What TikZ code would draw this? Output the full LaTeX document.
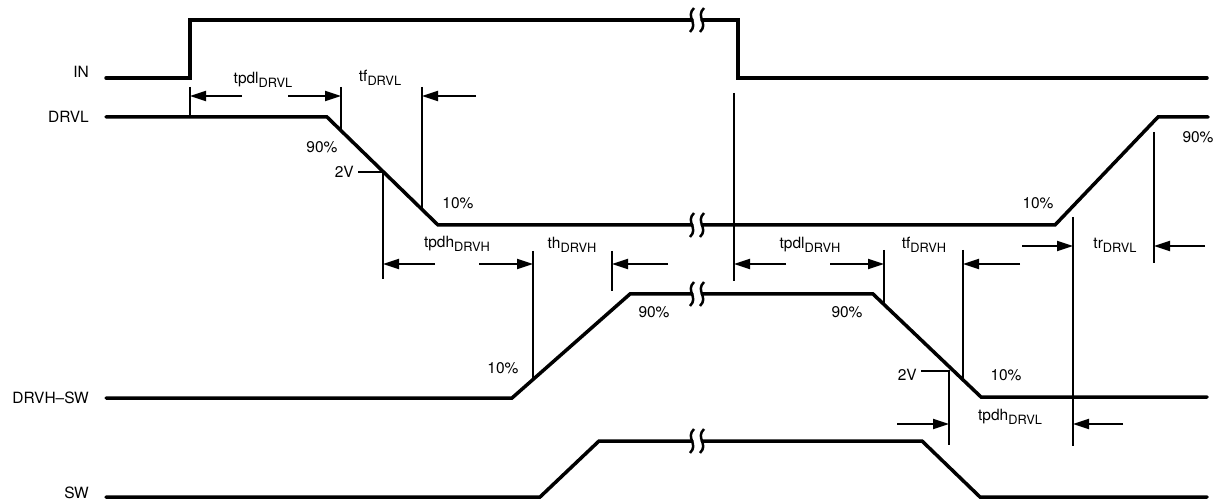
\documentclass[tikz,border=0pt]{standalone}
\usepackage{fontspec}
\setmainfont{TeX Gyre Heros}
\usetikzlibrary{arrows.meta}

\newcommand{\tsub}[2]{#1\raisebox{-4pt}{\fontsize{12.8}{13}\selectfont #2}}

\begin{document}
\begin{tikzpicture}[x=1pt,y=-1pt,
    sig/.style={line width=3.5pt,line cap=round},
    dim/.style={line width=2pt},
    arr/.style={line width=2pt,-{Triangle[length=16pt,width=10pt]}},
    lbl/.style={inner sep=0pt,font=\fontsize{15.5}{17}\selectfont}]
  \useasboundingbox (0,0) rectangle (1217,502);

  % signal names
  \node[lbl,anchor=east] at (89,72) (nIN) {IN};
  \node[lbl,anchor=east] at (89,117) (nDRVL) {DRVL};
  \node[lbl,anchor=east] at (89,398) (nDRVH) {DRVH–SW};
  \node[lbl,anchor=east] at (89,493) (nSW) {SW};

  % waveforms
  \draw[sig] (106,78) -- (190,78) -- (190,20) -- (692,20);
  \draw[sig] (702,20) -- (738,20) -- (738,78) -- (1207,78);
  \draw[sig] (106,117) -- (327,117) -- (438,225) -- (692,225);
  \draw[sig] (702,225) -- (1055,225) -- (1158,117) -- (1208,117);
  \draw[sig] (106,398) -- (512,398) -- (630,294) -- (692,294);
  \draw[sig] (702,294) -- (873,294) -- (981,397) -- (1207,397);
  \draw[sig] (106,497) -- (540,497) -- (599,441) -- (692,441);
  \draw[sig] (702,441) -- (922,441) -- (980,497) -- (1207,497);

  % breaks
  \foreach \y in {20,225,294,441}
    \foreach \x in {692,702}
      \draw[line width=2.5pt] (\x+2,\y-12) .. controls (\x-7,\y-3) and (\x+7,\y+3) .. (\x-2,\y+12);

  % tpdl DRVL, tf DRVL
  \coordinate (a1) at (190,96);
  \coordinate (a2) at (341,96);
  \coordinate (a3) at (422,96);
  \draw[dim] (190,87) -- (190,117);
  \draw[dim] (341,87) -- (341,130);
  \draw[dim] (422,87) -- (422,209);
  \draw[arr] (242,96) -- (a1);
  \draw[arr] (288,96) -- (a2);
  \draw[arr] (476,96) -- (a3);
  \node[lbl] at (263,80) (tpdlL) {\tsub{tpdl}{DRVL}};
  \node[lbl] at (380,78) (tfL) {\tsub{tf}{DRVL}};
  \node[lbl] at (322,147) (p90a) {90\%};
  \node[lbl] at (458,203) (p10a) {10\%};

  % tpdh DRVH, th DRVH
  \node[lbl,anchor=east] at (354,172) (v2a) {2V};
  \draw[dim] (358,172) -- (383,172) -- (383,279);
  \draw[dim] (533,251) -- (533,379);
  \draw[dim] (612,251) -- (612,291);
  \draw[arr] (435,264) -- (383,264);
  \draw[arr] (479,264) -- (533,264);
  \draw[arr] (668,264) -- (612,264);
  \node[lbl] at (457,244) (tpdhH) {\tsub{tpdh}{DRVH}};
  \node[lbl] at (572,245) (thH) {\tsub{th}{DRVH}};
  \node[lbl] at (503,368) (p10b) {10\%};
  \node[lbl] at (654,312) (p90b) {90\%};

  % tpdl DRVH, tf DRVH
  \draw[dim] (734,93) -- (734,281);
  \draw[dim] (884,250) -- (884,305);
  \draw[dim] (963,250) -- (963,380);
  \draw[arr] (786,264) -- (734,264);
  \draw[arr] (830,264) -- (884,264);
  \draw[arr] (1020,264) -- (963,264);
  \node[lbl] at (810,245) (tpdlH) {\tsub{tpdl}{DRVH}};
  \node[lbl] at (924,245) (tfH) {\tsub{tf}{DRVH}};
  \node[lbl] at (847,312) (p90c) {90\%};

  % tr DRVL
  \draw[dim] (1073,217) -- (1073,446);
  \draw[dim] (1154,132) -- (1154,263);
  \draw[arr] (1022,246) -- (1073,246);
  \draw[arr] (1205,246) -- (1154,246);
  \node[lbl] at (1115,245) (trL) {\tsub{tr}{DRVL}};
  \node[lbl] at (1038,203) (p10c) {10\%};
  \node[lbl] at (1198,137) (p90d) {90\%};

  % tpdh DRVL
  \node[lbl,anchor=east] at (917,375) (v2b) {2V};
  \draw[dim] (921,371) -- (949,371) -- (949,445);
  \draw[arr] (897,424) -- (949,424);
  \draw[arr] (1123,424) -- (1073,424);
  \node[lbl] at (1010,417) (tpdhL) {\tsub{tpdh}{DRVL}};
  \node[lbl] at (1006,375) (p10d) {10\%};
\end{tikzpicture}
\end{document}
